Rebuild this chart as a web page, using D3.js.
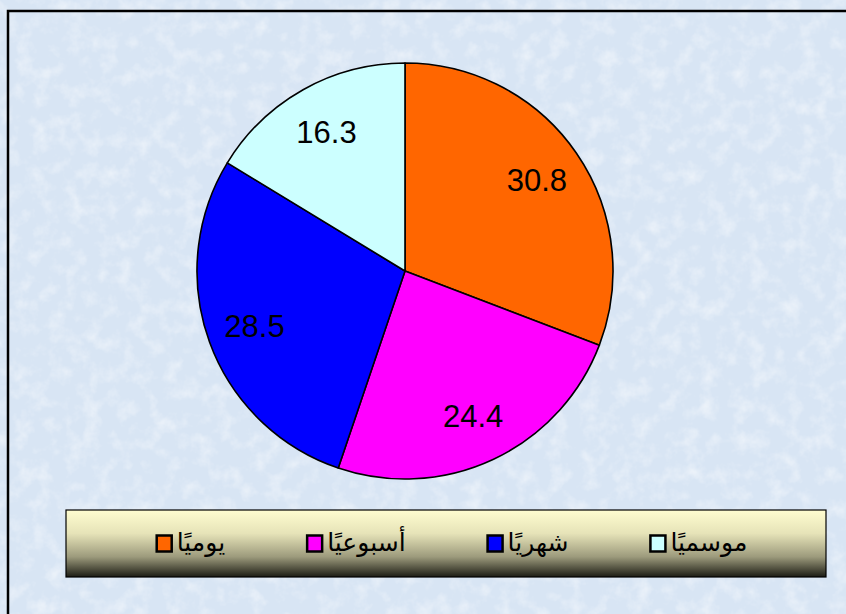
<!DOCTYPE html>
<html>
<head>
<meta charset="utf-8">
<script src="https://cdn.jsdelivr.net/npm/d3@7"></script>
<style>
  html, body { margin: 0; padding: 0; background: #dde9f6; }
  svg { display: block; }
</style>
</head>
<body>
<div id="chart"></div>
<script>
// data
var categories = ["يوميًا", "أسبوعيًا", "شهريًا", "موسميًا"];
var values = [30.8, 24.4, 28.5, 16.3];
var colors = ["#ff6600", "#ff00ff", "#0000ff", "#ccffff"];

var width = 846, height = 614;

var svg = d3.select("#chart")
            .append("svg")
            .attr("width", width)
            .attr("height", height);

var defs = svg.append("defs");

// paper-like texture for the background
var tex = defs.append("filter")
   .attr("id", "tex")
   .attr("x", 0).attr("y", 0).attr("width", 1).attr("height", 1);
tex.append("feTurbulence")
   .attr("type", "fractalNoise")
   .attr("baseFrequency", 0.06)
   .attr("numOctaves", 4)
   .attr("seed", 7)
   .attr("result", "noise");
tex.append("feColorMatrix")
   .attr("in", "noise")
   .attr("type", "matrix")
   .attr("values", "0 0 0 0 1  0 0 0 0 1  0 0 0 0 1  0 0 0 -1.0 0.55");

var grad = defs.append("linearGradient")
   .attr("id", "legendGrad")
   .attr("x1", 0).attr("y1", 0).attr("x2", 0).attr("y2", 1);
grad.append("stop").attr("offset", "0%").attr("stop-color", "#fffdd0");
grad.append("stop").attr("offset", "35%").attr("stop-color", "#e6e3b8");
grad.append("stop").attr("offset", "70%").attr("stop-color", "#9c9a7c");
grad.append("stop").attr("offset", "100%").attr("stop-color", "#1c1c14");

svg.append("rect")
   .attr("width", width)
   .attr("height", height)
   .attr("fill", "#d8e5f4");
svg.append("rect")
   .attr("width", width)
   .attr("height", height)
   .attr("filter", "url(#tex)");

// outer frame (runs off the right and bottom edges)
svg.append("rect")
   .attr("x", 8)
   .attr("y", 11)
   .attr("width", width + 20)
   .attr("height", height + 20)
   .attr("fill", "none")
   .attr("stroke", "#000")
   .attr("stroke-width", 2.5);

// pie
var cx = 405, cy = 271, r = 208;

var pie = d3.pie().sort(null).value(function(d) { return d; });
var arc = d3.arc().innerRadius(0).outerRadius(r);
var labelArc = d3.arc().innerRadius(r * 0.77).outerRadius(r * 0.77);

var g = svg.append("g")
   .attr("transform", "translate(" + cx + "," + cy + ")");

var slices = pie(values);

g.selectAll("path")
   .data(slices)
   .enter()
   .append("path")
   .attr("d", arc)
   .attr("fill", function(d, i) { return colors[i]; })
   .attr("stroke", "#000")
   .attr("stroke-width", 1.6)
   .attr("stroke-linejoin", "round");

g.selectAll("text.val")
   .data(slices)
   .enter()
   .append("text")
   .attr("class", "val")
   .text(function(d) { return d.data.toFixed(1); })
   .attr("x", function(d) { return labelArc.centroid(d)[0]; })
   .attr("y", function(d) { return labelArc.centroid(d)[1]; })
   .attr("dy", "0.36em")
   .attr("text-anchor", "middle")
   .attr("font-family", "'Liberation Sans', Arial, sans-serif")
   .attr("font-size", "31px")
   .attr("fill", "#000");

// legend
var lx = 66, ly = 510, lw = 760, lh = 67;

svg.append("rect")
   .attr("x", lx)
   .attr("y", ly)
   .attr("width", lw)
   .attr("height", lh)
   .attr("fill", "url(#legendGrad)")
   .attr("stroke", "#000")
   .attr("stroke-width", 1.2);

var items = svg.selectAll("g.item")
   .data(categories)
   .enter()
   .append("g")
   .attr("class", "item");

var labels = items.append("text")
   .text(function(d) { return d; })
   .attr("y", ly + lh / 2)
   .attr("dy", "0.3em")
   .attr("font-family", "'DejaVu Sans', sans-serif")
   .attr("font-size", "25px")
   .attr("fill", "#000");

var sq = 15, sqGap = 5, itemGap = 82;
var widths = [];
labels.each(function() { widths.push(this.getComputedTextLength()); });
var total = d3.sum(widths) + categories.length * (sq + sqGap) + (categories.length - 1) * itemGap;
var x0 = 452 - total / 2;
var xs = [];
widths.forEach(function(w) { xs.push(x0); x0 += sq + sqGap + w + itemGap; });

items.append("rect")
   .attr("x", function(d, i) { return xs[i]; })
   .attr("y", ly + lh / 2 - 8)
   .attr("width", sq)
   .attr("height", 16)
   .attr("fill", function(d, i) { return colors[i]; })
   .attr("stroke", "#000")
   .attr("stroke-width", 2.5);

labels.attr("x", function(d, i) { return xs[i] + sq + sqGap; });
</script>
</body>
</html>
